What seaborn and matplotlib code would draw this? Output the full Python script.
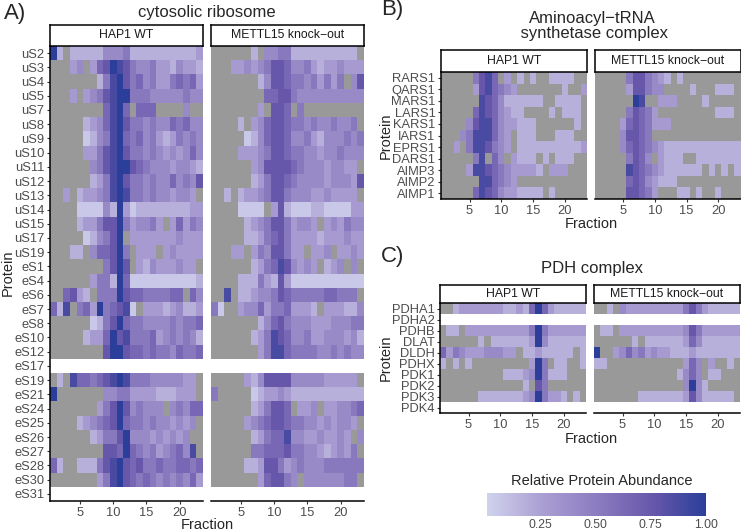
import numpy as np
import matplotlib
matplotlib.use("Agg")
import matplotlib.pyplot as plt
import matplotlib.cm as cm
from matplotlib.colors import LinearSegmentedColormap, Normalize
import seaborn as sns

sns.set_style("white")
plt.rcParams['font.family'] = ['Liberation Sans', 'DejaVu Sans']

fractions = list(range(1, 24))
frac_ticks = [5, 10, 15, 20]
conditions = ["HAP1 WT", "METTL15 knock\u2212out"]

# one character per fraction: '.' = not detected (grey), 1..9 = abundance level
# None = protein absent from the panel (white row)
level = {'1': 0.06, '2': 0.18, '3': 0.29, '4': 0.41, '5': 0.53,
         '6': 0.65, '7': 0.76, '8': 0.88, '9': 1.00}

ribo_proteins = ["uS2", "uS3", "uS4", "uS5", "uS7", "uS8", "uS9", "uS10", "uS11", "uS12",
                 "uS13", "uS14", "uS15", "uS17", "uS19", "eS1", "eS4", "eS6", "eS7", "eS8",
                 "eS10", "eS12", "eS17", "eS19", "eS21", "eS24", "eS25", "eS26", "eS27",
                 "eS28", "eS30", "eS31"]
ribo_wt = [
    "92.22222444522222222223",
    "...34.36798754453324332",
    ".......2589756453356563",
    "...3.345789955544444544",
    "........6896.666....4..",
    ".....234689755454465644",
    ".....124589656453235454",
    ".....335789755454343464",
    "......45789976544434432",
    "......23589755454464547",
    "..3.233458985545443443.",
    "....1111429312222222233",
    "....2335779534453.36354",
    ".....124579.33333334333",
    "...22.466795.333.343333",
    "........5797.324333433.",
    "......35529611111111112",
    "..6732.5559766555566.64",
    "628.563956781.333234223",
    "......12579655444454556",
    ".....233697855563454542",
    "........799766565546556",
    None,
    ".2.8665678985554444433.",
    "9.......44553333222333.",
    ".......3579745444.45466",
    "....234567965545443434.",
    "......235579444343434..",
    "........77696545345648.",
    "62..2225789767556556656",
    ".......3589765654545463",
    None,
]
ribo_ko = [
    "......2.44552222222222.",
    "...33434577644532334333",
    ".......2477655453535.47",
    "........667754444444444",
    ".......3.776.5.........",
    "....2.3467765545445445.",
    ".....124677644532444545",
    "....3334577655443445444",
    "......3477776544434433.",
    "......23577654444344437",
    "..2.233457754443343333.",
    "....1111.37211122111133",
    ".....23457753443.343544",
    ".....223567533332333433",
    "...33.35477533.334.3343",
    "......2356874343.234.4.",
    "....2225327311111111111",
    "..8.223445765555566555.",
    "51..344635563332.333224",
    ".......2467544433344455",
    "......23587644533444342",
    ".......3588655554454544",
    None,
    ".....32477774444433333.",
    "5.....12334322222222222",
    "......235776.334.334456",
    ".....34567765544343443.",
    "......235668443343343.4",
    "......5566675544323435.",
    ".....223775345444555555",
    ".......367754.44444455.",
    None,
]

aars_proteins = ["RARS1", "QARS1", "MARS1", "LARS1", "KARS1", "IARS1", "EPRS1",
                 "DARS1", "AIMP3", "AIMP2", "AIMP1"]
aars_wt = [
    ".....5786.3.2.2..2222..",
    ".....3786543.......2..3",
    "......8764222222..2222.",
    ".....68764322....2.222.",
    "....47886433222......2.",
    "...45888643.222...222..",
    "..3.5887543.22222222223",
    ".....58.64.3222.2.222..",
    "....388765433332.333...",
    "......886543...........",
    ".....68764332222.2.....",
]
aars_ko = [
    ".....5775432.2.........",
    ".....377544....2...222.",
    "......98..333....2.....",
    ".....57653.........222.",
    "....36765333...........",
    "....47765..............",
    "....4676543222222222222",
    ".....5764.3222..2222222",
    ".....876543222222.2.2.2",
    ".....67643222..........",
    ".....77653...22.2..2...",
]

pdh_proteins = ["PDHA1", "PDHA2", "PDHB", "DLAT", "DLDH", "PDHX", "PDK1", "PDK2", "PDK3", "PDK4"]
pdh_wt = [
    "..233333332232696322222",
    None,
    ".22.3333333333595333333",
    "......2.222222394222222",
    "635433344433.22322222.2",
    "2.2.2.........395.22..2",
    "..........2223495222...",
    ".............2.75......",
    "......22222223495332.2.",
    None,
]
pdh_ko = [
    "..2.4333333333575322222",
    None,
    ".22.3333333333475333333",
    "......2.222222364222222",
    "9..34645343322232222222",
    "22............364.3..2.",
    ".............2464.22...",
    "..............4942.....",
    ".......222222237422222.",
    None,
]

W, H = 741, 532
VMIN = 0.01
NA = -1.0
fig = plt.figure(figsize=(W / 100, H / 100), dpi=100)

cmap = LinearSegmentedColormap.from_list(
    "abund", ["#d0d2ed", "#aa9fd3", "#8c7cc0", "#6858ab", "#2b3f9a"])
cmap.set_under("#999999")


def place(x0, y0, x1, y1):
    return fig.add_axes([x0 / W, 1 - y1 / H, (x1 - x0) / W, (y1 - y0) / H])


def put(x, y, s, **kw):
    fig.text(x / W, 1 - y / H, s, **kw)


def to_matrix(rows):
    out = []
    for r in rows:
        if r is None:
            out.append([np.nan] * len(fractions))
        else:
            assert len(r) == len(fractions), r
            out.append([NA if c == '.' else level[c] for c in r])
    return np.array(out, dtype=float)


def facet(box, strip, rows, labels, cond, first):
    ax = place(*box)
    sns.heatmap(to_matrix(rows), ax=ax, cmap=cmap, vmin=VMIN, vmax=1, cbar=False,
                xticklabels=False, yticklabels=False)
    ax.set_facecolor("white")
    ax.set_xlabel("")
    ax.set_ylabel("")
    ax.set_xticks([f - fractions[0] + 0.5 for f in frac_ticks], [str(f) for f in frac_ticks])
    ax.tick_params(axis="x", bottom=True, length=2.5, width=0.8, color="#333333",
                   labelsize=9.3, labelcolor="#4d4d4d", pad=2)
    ax.spines["bottom"].set_visible(True)
    ax.spines["bottom"].set_color("black")
    ax.spines["bottom"].set_linewidth(1.1)
    if first:
        ax.set_yticks(np.arange(len(labels)) + 0.5, labels, rotation=0)
        ax.tick_params(axis="y", left=True, length=2.5, width=0.8, color="#333333",
                       labelsize=9.3, labelcolor="#4d4d4d", pad=1.5)
        ax.spines["left"].set_visible(True)
        ax.spines["left"].set_color("black")
        ax.spines["left"].set_linewidth(1.1)
    else:
        ax.set_yticks([])

    sax = place(*strip)
    sax.set_xticks([])
    sax.set_yticks([])
    for sp in sax.spines.values():
        sp.set_visible(True)
        sp.set_color("black")
        sp.set_linewidth(1.1)
    sax.text(0.5, 0.5, cond, ha="center", va="center", fontsize=8.8, color="#1a1a1a",
             transform=sax.transAxes)


# A) cytosolic ribosome
facet((50, 46, 203, 501), (50, 25, 203, 46), ribo_wt, ribo_proteins, conditions[0], True)
facet((211, 46, 364, 501), (211, 25, 364, 46), ribo_ko, ribo_proteins, conditions[1], False)
put(4, 13, "A)", fontsize=16, va="center", ha="left")
put(207, 12, "cytosolic ribosome", fontsize=12, ha="center", va="center")
put(8, 273, "Protein", fontsize=10.5, rotation=90, ha="center", va="center")
put(207, 525, "Fraction", fontsize=10.5, ha="center", va="center")

# B) aminoacyl-tRNA synthetase complex
facet((441, 72, 587, 199), (441, 50, 587, 72), aars_wt, aars_proteins, conditions[0], True)
facet((594.5, 72, 740.5, 199), (594.5, 50, 740.5, 72), aars_ko, aars_proteins, conditions[1], False)
put(381, 10, "B)", fontsize=16, va="center", ha="left")
put(592, 26, "Aminoacyl\u2212tRNA\n synthetase complex", fontsize=12, ha="center", va="center",
    linespacing=0.95)
put(386, 136, "Protein", fontsize=10.5, rotation=90, ha="center", va="center")
put(591, 224, "Fraction", fontsize=10.5, ha="center", va="center")

# C) PDH complex
facet((440, 303, 586, 413), (440, 285, 586, 303), pdh_wt, pdh_proteins, conditions[0], True)
facet((594, 303, 740, 413), (594, 285, 740, 303), pdh_ko, pdh_proteins, conditions[1], False)
put(381, 257, "C)", fontsize=16, va="center", ha="left")
put(592, 268, "PDH complex", fontsize=12, ha="center", va="center")
put(386, 358, "Protein", fontsize=10.5, rotation=90, ha="center", va="center")
put(591, 439, "Fraction", fontsize=10.5, ha="center", va="center")

# colour bar
cax = place(487, 493, 706, 516)
sm = cm.ScalarMappable(norm=Normalize(VMIN, 1), cmap=cmap)
cb = fig.colorbar(sm, cax=cax, orientation="horizontal")
cb.outline.set_visible(False)
cb.set_ticks([0.25, 0.5, 0.75, 1.0], labels=["0.25", "0.50", "0.75", "1.00"])
cax.tick_params(axis="x", direction="in", length=3.5, width=0.8, color="white",
                labelsize=8.8, labelcolor="#4d4d4d", pad=2, top=True, bottom=True)
put(602, 481, "Relative Protein Abundance", fontsize=10.5, ha="center", va="center")

fig.savefig("out.png", dpi=100)
